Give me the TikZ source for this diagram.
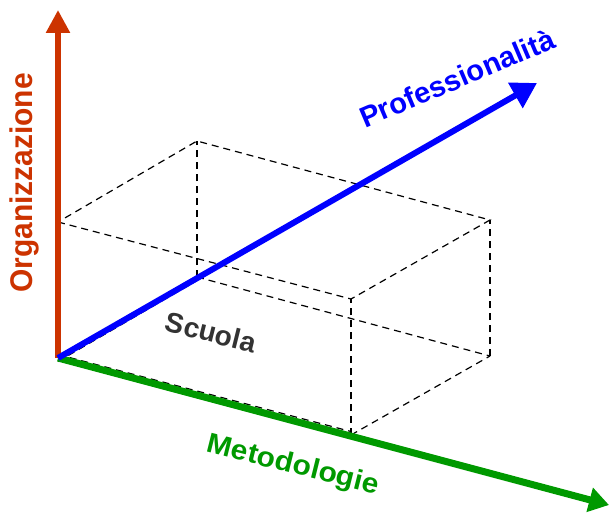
\documentclass[tikz,border=0pt]{standalone}
\usepackage{fontspec}
\setmainfont{Liberation Sans}
\usetikzlibrary{arrows.meta}
\definecolor{orgred}{RGB}{204,51,0}
\definecolor{problue}{RGB}{0,0,255}
\definecolor{metgreen}{RGB}{0,153,0}
\definecolor{scgray}{RGB}{51,51,51}
\begin{document}
\begin{tikzpicture}[x=1pt,y=-1pt,
  edge/.style={draw=black, line width=1.2pt, dash pattern=on 7pt off 5pt},
  lab/.style={font=\fontsize{28}{30}\selectfont\bfseries, inner sep=0pt}]
\path[use as bounding box] (0,0) rectangle (610,516);
% box corners
\coordinate (O) at (58,358);
\coordinate (A) at (58,222);
\coordinate (B) at (351,435);
\coordinate (C) at (197,277);
\coordinate (AB) at (351,299);
\coordinate (AC) at (197,141);
\coordinate (BC) at (490,356);
\coordinate (ABC) at (490,220);
% axis tips
\coordinate (Otip) at (58,10);
\coordinate (Ptip) at (537,83);
\coordinate (Mtip) at (609,505);
% dashed box
\draw[edge] (A) -- (AB) -- (ABC) -- (AC) -- cycle;
\draw[edge] (B) -- (BC);
\draw[edge] (C) -- (BC);
\draw[edge] (B) -- (AB);
\draw[edge] (C) -- (AC);
\draw[edge] (BC) -- (ABC);
\draw[edge] ([yshift=-3.5pt]O) -- ([yshift=-3.5pt]C);
\draw[edge] ([yshift=3.5pt]O) -- ([yshift=3.5pt]B);
% axes
\draw[orgred, line width=5.5pt, -{Triangle[length=23pt,width=23pt]}] (O) -- (Otip);
\draw[metgreen, line width=7pt, -{Triangle[length=20pt,width=24pt]}] (O) -- (Mtip);
\draw[problue, line width=6pt, -{Triangle[length=25pt,width=28pt]}] (O) -- (Ptip);
% labels
\node[lab, text=orgred, rotate=90] (org) at (24,183) {\scalebox{1.07}[1.12]{Organizzazione}};
\node[lab, text=problue, rotate=23] (prof) at (457,78) {\scalebox{1.04}{Professionalità}};
\node[lab, text=metgreen, rotate=-14] (met) at (293,466) {\scalebox{1.07}[1]{Metodologie}};
\node[lab, text=scgray, rotate=-14, font=\fontsize{27}{30}\selectfont\bfseries] (sc) at (211,332) {\scalebox{1.04}{Scuola}};
\end{tikzpicture}
\end{document}
